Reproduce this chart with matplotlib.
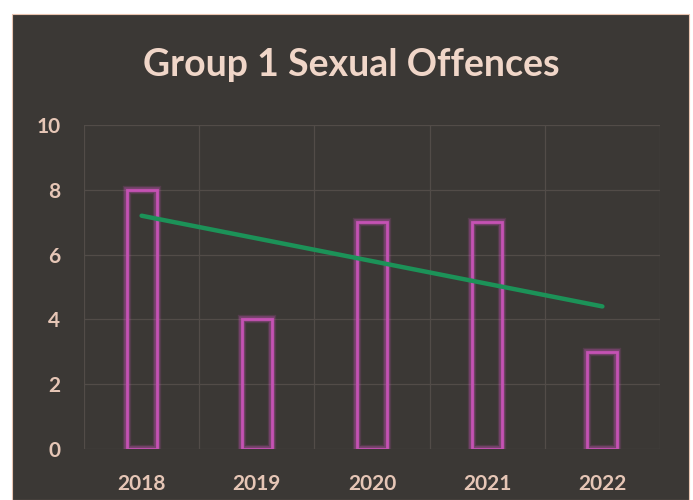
import matplotlib.pyplot as plt
import matplotlib.patheffects as pe
import numpy as np
from matplotlib.patches import Rectangle

years = ["2018", "2019", "2020", "2021", "2022"]
offences = [8, 4, 7, 7, 3]

bg = "#3b3835"
text_col = "#e6c6b6"
bar_edge = "#c552b4"

fig = plt.figure(figsize=(6.93, 5.0), dpi=100, facecolor="white")
fig.patches.append(Rectangle((12 / 693, 0), 677 / 693, 486 / 500, transform=fig.transFigure,
                             facecolor=bg, edgecolor="#e8c4b0", linewidth=0.8, zorder=-5))

ax = fig.add_axes([84 / 693, 51 / 500, 576 / 693, 324 / 500])
ax.set_facecolor(bg)
x = np.arange(len(years))

glow = [pe.Stroke(linewidth=6, foreground=bar_edge, alpha=0.18),
        pe.Stroke(linewidth=4, foreground=bar_edge, alpha=0.35),
        pe.Normal()]
ax.bar(x, offences, width=0.26, facecolor="none", edgecolor=bar_edge, linewidth=2,
       path_effects=glow, zorder=3)

# linear trendline like the spreadsheet one
slope, intercept = np.polyfit(x, offences, 1)
ax.plot(x, slope * x + intercept, color="#1c9258", linewidth=3.2, solid_capstyle="round", zorder=4)

ax.set_xlim(-0.5, len(years) - 0.5)
ax.set_ylim(0, 10)
ax.set_yticks(range(0, 11, 2))
ax.set_xticks(x)
ax.set_xticklabels(years)
ax.set_xticks(np.arange(-0.5, len(years), 1), minor=True)
ax.grid(True, which="major", axis="y", color="#524c48", linewidth=0.9)
ax.grid(True, which="minor", axis="x", color="#524c48", linewidth=0.9)
ax.tick_params(which="both", length=0, colors=text_col, labelsize=15)
ax.tick_params(axis="y", pad=17)
ax.tick_params(axis="x", pad=18)
for s in ax.spines.values():
    s.set_visible(False)
for lab in ax.get_xticklabels() + ax.get_yticklabels():
    lab.set_family("Lato")
    lab.set_fontweight("bold")

fig.text(351 / 693, 435 / 500, "Group 1 Sexual Offences", ha="center", va="center",
         fontsize=27, fontweight="bold", color="#f0d6c8", family="Lato")

fig.savefig("out.png", dpi=100, facecolor="white")
